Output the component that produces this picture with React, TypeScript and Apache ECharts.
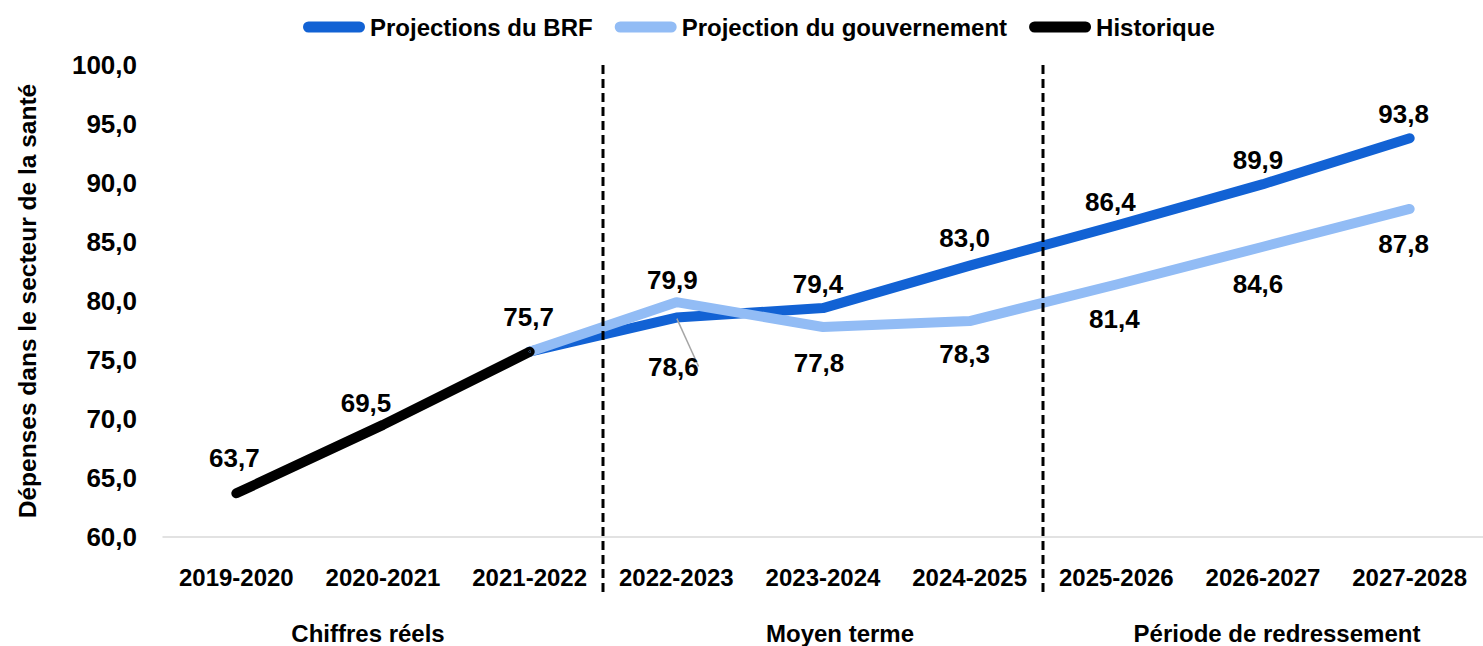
import React, { useEffect, useRef } from "react";
import * as echarts from "echarts";

const categories = [
  "2019-2020", "2020-2021", "2021-2022", "2022-2023", "2023-2024",
  "2024-2025", "2025-2026", "2026-2027", "2027-2028",
];
const sections = ["Chiffres réels", "Moyen terme", "Période de redressement"];
const dividerAfter = ["2021-2022", "2024-2025"];

const brfValues = [null, null, 75.7, 78.6, 79.4, 83.0, 86.4, 89.9, 93.8];
const govValues = [null, null, 75.7, 79.9, 77.8, 78.3, 81.4, 84.6, 87.8];
const histValues = [63.7, 69.5, 75.7, null, null, null, null, null, null];

const yTicks = [60, 65, 70, 75, 80, 85, 90, 95, 100];

// label placement (dx, dy from point to label centre); null = no label
const brfLabelOffsets = [null, null, null, [-3, 49], [-5, -24], [-5, -28], [-6, -23], [-5, -24], [-6, -24]];
const govLabelOffsets = [null, null, null, [-4, -22], [-4, 36], [-5, 33], [-2, 35], [-5, 37], [-6, 35]];
const histLabelOffsets = [[-2, -35], [-17, -22], [-1, -35], null, null, null, null, null, null];
// horizontal nudges of the section labels (left, right padding)
const sectionPads = [[0, 30], [34, 0], [28, 0]];

const FONT = "'Liberation Sans', Arial, sans-serif";

const fmt = (v: number) => v.toFixed(1).replace(".", ",");

const capsule = "path://M5.5,0 L56.5,0 A5.5,5.5 0 0 1 56.5,11 L5.5,11 A5.5,5.5 0 0 1 5.5,0 Z";

function buildData(values: (number | null)[], offsets: (number[] | null)[], leaderIdx: number[] = []) {
  return values.map((v, i) => {
    if (v === null) return null;
    const off = offsets[i];
    if (!off) return { value: v, label: { show: false } };
    const item: any = {
      value: v,
      label: { show: true, position: "inside", offset: off },
    };
    if (leaderIdx.includes(i)) {
      item.labelLine = { show: true, lineStyle: { color: "#a6a6a6", width: 1.5 } };
    }
    return item;
  });
}

export default function App() {
  const ref = useRef<HTMLDivElement>(null);
  useEffect(() => {
    if (!ref.current) return;
    const chart = echarts.init(ref.current, undefined, { renderer: "svg" });
    const labelStyle = {
      fontFamily: FONT,
      fontWeight: "bold",
      fontSize: 26,
      color: "#000",
      formatter: (p: any) => fmt(p.value),
    };
    const lineSeries = (name: string, color: string, data: any[]) => ({
      name,
      type: "line",
      data,
      symbol: "circle",
      symbolSize: 2,
      showSymbol: true,
      connectNulls: false,
      itemStyle: { color },
      lineStyle: { color, width: 10, cap: "round", join: "round" },
      label: labelStyle,
      emphasis: { disabled: true },
    });
    const rich: any = {};
    sections.forEach((_, i) => {
      rich["s" + i] = {
        fontFamily: FONT,
        fontWeight: "bold",
        fontSize: 24,
        color: "#000",
        padding: [0, sectionPads[i][1], 0, sectionPads[i][0]],
      };
    });
    chart.setOption({
      animation: false,
      backgroundColor: "#fff",
      legend: {
        left: 298,
        top: 10,
        itemWidth: 62,
        itemHeight: 11,
        itemGap: 22,
        icon: capsule,
        data: ["Projections du BRF", "Projection du gouvernement", "Historique"],
        textStyle: { fontFamily: FONT, fontWeight: "bold", fontSize: 24, color: "#000" },
      },
      grid: { left: 163, top: 65, width: 1329, height: 472 },
      xAxis: [
        {
          type: "category",
          data: categories,
          position: "bottom",
          axisLine: { lineStyle: { color: "#d9d9d9", width: 1.5 } },
          axisTick: { show: false },
          axisLabel: {
            fontFamily: FONT,
            fontWeight: "bold",
            fontSize: 24,
            color: "#000",
            margin: 28,
            interval: 0,
          },
        },
        {
          type: "category",
          data: sections,
          position: "bottom",
          axisLine: { show: false },
          axisTick: { show: false },
          axisLabel: {
            fontFamily: FONT,
            fontWeight: "bold",
            fontSize: 24,
            color: "#000",
            margin: 84,
            interval: 0,
            formatter: (v: string) => `{s${sections.indexOf(v)}|${v}}`,
            rich,
          },
        },
      ],
      yAxis: {
        type: "value",
        min: 60,
        max: 100,
        interval: 5,
        splitLine: { show: false },
        axisLine: { show: false },
        axisTick: { show: false },
        axisLabel: {
          fontFamily: FONT,
          fontWeight: "bold",
          fontSize: 26,
          color: "#000",
          margin: 26,
          formatter: (v: number) => (yTicks.includes(v) ? fmt(v) : ""),
        },
        name: "Dépenses dans le secteur de la santé",
        nameLocation: "middle",
        nameGap: 123,
        nameTextStyle: { fontFamily: FONT, fontWeight: "bold", fontSize: 24.5, color: "#000" },
      },
      series: [
        lineSeries("Projections du BRF", "#1262d4", buildData(brfValues, brfLabelOffsets, [3])),
        lineSeries("Projection du gouvernement", "#92bcf5", buildData(govValues, govLabelOffsets)),
        lineSeries("Historique", "#000000", buildData(histValues, histLabelOffsets)),
        {
          type: "custom",
          xAxisIndex: 0,
          yAxisIndex: 0,
          clip: false,
          silent: true,
          z: 5,
          data: dividerAfter.map((c) => [categories.indexOf(c), 100]),
          renderItem: (params: any, api: any) => {
            const top = api.coord([api.value(0), 100]);
            const bottom = api.coord([api.value(0), 60]);
            const w = api.size([1, 0])[0];
            const x = top[0] + w / 2;
            return {
              type: "line",
              shape: { x1: x, y1: top[1], x2: x, y2: bottom[1] + 58 },
              style: { stroke: "#000", lineWidth: 3, lineDash: [9, 5] },
            };
          },
        },
      ],
    });
    return () => chart.dispose();
  }, []);
  return (
    <div
      ref={ref}
      style={{ position: "fixed", left: 0, top: 0, width: 1483, height: 646 }}
    />
  );
}
